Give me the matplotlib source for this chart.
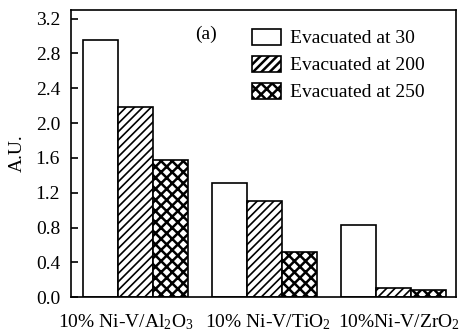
import numpy as np
import matplotlib.pyplot as plt
from matplotlib.transforms import ScaledTranslation

plt.rcParams['font.family'] = ['Liberation Serif', 'DejaVu Serif']
plt.rcParams['mathtext.fontset'] = 'custom'
plt.rcParams['mathtext.rm'] = 'Liberation Serif'
plt.rcParams['mathtext.default'] = 'regular'

# catalysts and peak areas per evacuation temperature
catalysts = ['10% Ni-V/Al$_2$O$_3$', '10% Ni-V/TiO$_2$', '10%Ni-V/ZrO$_2$']
evac_30 = [2.96, 1.31, 0.83]
evac_200 = [2.19, 1.11, 0.11]
evac_250 = [1.58, 0.52, 0.08]
series_names = ['Evacuated at 30', 'Evacuated at 200', 'Evacuated at 250']
yticks = [0.0, 0.4, 0.8, 1.2, 1.6, 2.0, 2.4, 2.8, 3.2]

fig = plt.figure(figsize=(4.62, 3.32), dpi=100)
ax = fig.add_axes([0.154, 0.105, 0.832, 0.865])

x = np.arange(len(catalysts))
w = 0.27
plt.rcParams['hatch.linewidth'] = 1.2
ax.bar(x - w, evac_30, w, color='white', edgecolor='black', lw=1.2, label=series_names[0])
ax.bar(x, evac_200, w, color='white', edgecolor='black', lw=1.2, hatch='////', label=series_names[1])
plt.rcParams['hatch.linewidth'] = 1.8
ax.bar(x + w, evac_250, w, color='white', edgecolor='black', lw=1.2, hatch='xxx', label=series_names[2])

ax.set_xlim(-0.5, 2.48)
ax.set_ylim(0, 3.3)
ax.set_yticks(yticks)
ax.set_yticklabels(['%.1f' % v for v in yticks], fontsize=14)
ax.set_xticks(x)
ax.set_xticklabels(catalysts, fontsize=14)
ax.tick_params(axis='y', direction='in', length=5, width=1.2, pad=8)
ax.tick_params(axis='x', length=0, pad=11)
for s in ax.spines.values():
    s.set_linewidth(1.2)

# nudge the category labels sideways a little
for lab, dx in zip(ax.get_xticklabels(), [-10, 3, 5]):
    lab.set_transform(lab.get_transform() + ScaledTranslation(dx / 100, 0, fig.dpi_scale_trans))

ax.set_ylabel('A.U.', fontsize=14, labelpad=7)
ax.text(0.35, 0.9, '(a)', transform=ax.transAxes, fontsize=14, ha='center')
ax.legend(loc='upper left', frameon=False, fontsize=14, handlelength=1.5,
          handleheight=0.9, handletextpad=0.45, labelspacing=0.42,
          borderpad=0, borderaxespad=0, bbox_to_anchor=(0.471, 0.935))

fig.savefig('out.png', dpi=100)
